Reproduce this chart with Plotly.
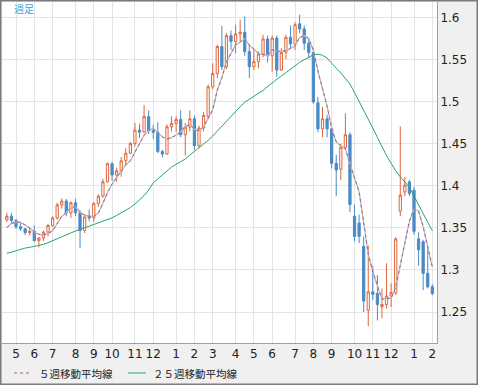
import plotly.graph_objects as go
import pandas as pd

# ---- data (weekly candles, Apr 2007 - Feb 2009) ----
first_week = "2007-04-23"
opens = [1.3595,1.3640,1.3590,1.3515,1.3490,1.3445,1.3460,1.3350,1.3380,1.3450,
         1.3530,1.3620,1.3775,1.3820,1.3680,1.3800,1.3680,1.3470,1.3640,1.3620,
         1.3790,1.3880,1.4050,1.4265,1.4130,1.4175,1.4300,1.4390,1.4505,1.4665,
         1.4645,1.4825,1.4660,1.4640,1.4410,1.4380,1.4705,1.4745,1.4790,1.4610,
         1.4700,1.4800,1.4480,1.4690,1.4830,1.5180,1.5340,1.5660,1.5420,1.5790,
         1.5720,1.5810,1.5830,1.5600,1.5420,1.5480,1.5570,1.5750,1.5550,1.5760,
         1.5380,1.5590,1.5770,1.5690,1.5930,1.5870,1.5700,1.5590,1.4990,1.4680,
         1.4800,1.4680,1.4270,1.4200,1.4460,1.4610,1.3640,1.3560,1.3280,1.2520,
         1.2740,1.2720,1.2560,1.2590,1.2690,1.2730,1.3700,1.3930,1.4050,1.3950,
         1.3370,1.3337,1.2960,1.2800]
highs = [1.3682,1.3680,1.3610,1.3560,1.3500,1.3510,1.3530,1.3395,1.3470,1.3545,
         1.3640,1.3800,1.3850,1.3845,1.3815,1.3850,1.3710,1.3660,1.3720,1.3810,
         1.3900,1.4085,1.4280,1.4285,1.4220,1.4345,1.4450,1.4525,1.4750,1.4740,
         1.4966,1.4900,1.4730,1.4760,1.4430,1.4735,1.4830,1.4830,1.4900,1.4750,
         1.4900,1.4840,1.4720,1.4880,1.5210,1.5460,1.5680,1.5905,1.5820,1.5850,
         1.5920,1.5980,1.6019,1.5680,1.5620,1.5600,1.5800,1.5790,1.5790,1.5790,
         1.5640,1.5800,1.5910,1.5950,1.6038,1.5910,1.5760,1.5630,1.5060,1.4940,
         1.4850,1.4710,1.4370,1.4500,1.4865,1.4640,1.3780,1.3660,1.3400,1.3290,
         1.3050,1.2940,1.2780,1.3080,1.2840,1.3390,1.4710,1.4110,1.4070,1.3990,
         1.3450,1.3360,1.3270,1.2830]
lows = [1.3575,1.3560,1.3490,1.3465,1.3415,1.3410,1.3335,1.3270,1.3345,1.3400,
        1.3515,1.3600,1.3730,1.3640,1.3620,1.3640,1.3262,1.3440,1.3580,1.3570,
        1.3750,1.3860,1.4040,1.4060,1.4050,1.4110,1.4240,1.4380,1.4470,1.4570,
        1.4630,1.4620,1.4560,1.4390,1.4340,1.4370,1.4650,1.4640,1.4580,1.4365,
        1.4650,1.4430,1.4450,1.4650,1.4800,1.5150,1.5280,1.5380,1.5390,1.5620,
        1.5580,1.5720,1.5550,1.5285,1.5380,1.5400,1.5530,1.5470,1.5360,1.5300,
        1.5370,1.5510,1.5640,1.5620,1.5820,1.5620,1.5520,1.4980,1.4640,1.4580,
        1.4580,1.4210,1.3880,1.4070,1.4440,1.3690,1.3340,1.3320,1.2500,1.2330,
        1.2640,1.2400,1.2425,1.2540,1.2560,1.2700,1.3640,1.3880,1.3880,1.3420,
        1.3050,1.2760,1.2780,1.2700]
closes = [1.3640,1.3590,1.3515,1.3490,1.3445,1.3460,1.3350,1.3380,1.3450,1.3530,
          1.3620,1.3775,1.3820,1.3680,1.3800,1.3680,1.3470,1.3630,1.3620,1.3790,
          1.3880,1.4050,1.4265,1.4130,1.4180,1.4300,1.4390,1.4505,1.4665,1.4640,
          1.4825,1.4660,1.4640,1.4410,1.4380,1.4705,1.4745,1.4790,1.4610,1.4700,
          1.4800,1.4480,1.4690,1.4840,1.5180,1.5340,1.5660,1.5420,1.5790,1.5720,
          1.5810,1.5830,1.5600,1.5420,1.5480,1.5570,1.5750,1.5550,1.5760,1.5380,
          1.5590,1.5770,1.5690,1.5920,1.5870,1.5700,1.5590,1.5000,1.4680,1.4800,
          1.4680,1.4270,1.4190,1.4460,1.4610,1.3780,1.3400,1.3400,1.2630,1.2740,
          1.2710,1.2590,1.2590,1.2690,1.2730,1.3370,1.3890,1.4010,1.3910,1.3460,
          1.3240,1.2960,1.2800,1.2720]
prior_closes = [1.3355, 1.3420, 1.3520, 1.3595]   # 4 weeks before first candle (for 5-week MA)
ma25 = [1.3198,1.3215,1.3235,1.3251,1.3261,1.3270,1.3280,1.3289,1.3306,1.3325,
        1.3348,1.3374,1.3400,1.3425,1.3445,1.3464,1.3483,1.3502,1.3521,1.3540,
        1.3560,1.3577,1.3596,1.3620,1.3650,1.3679,1.3708,1.3743,1.3785,1.3833,
        1.3885,1.3952,1.4037,1.4085,1.4133,1.4182,1.4225,1.4257,1.4289,1.4321,
        1.4368,1.4411,1.4455,1.4499,1.4543,1.4595,1.4655,1.4715,1.4775,1.4832,
        1.4888,1.4943,1.4998,1.5031,1.5063,1.5096,1.5138,1.5183,1.5230,1.5270,
        1.5308,1.5346,1.5386,1.5430,1.5474,1.5505,1.5535,1.5561,1.5569,1.5556,
        1.5523,1.5458,1.5401,1.5345,1.5280,1.5214,1.5111,1.5010,1.4906,1.4802,
        1.4689,1.4579,1.4467,1.4361,1.4270,1.4181,1.4110,1.4046,1.3983,1.3881,
        1.3771,1.3668,1.3568,1.3469]
month_labels = ["5","6","7","8","9","10","11","12","1","2","3",
                "4","5","6","7","8","9","10","11","12","1","2"]
y_ticks = [1.25, 1.3, 1.35, 1.4, 1.45, 1.5, 1.55, 1.6]
y_labels = ["1.25", "1.3", "1.35", "1.4", "1.45", "1.5", "1.55", "1.6"]
name_ma5 = "５週移動平均線"
name_ma25 = "２５週移動平均線"
title_text = "週足"

# ---- derived ----
weeks = pd.date_range(first_week, periods=len(closes), freq="7D")
ma5 = pd.Series(prior_closes + closes).rolling(5).mean().iloc[len(prior_closes):].tolist()
tick_dates = [d for d in weeks if d.day <= 7]

UP = "#e0643c"
DOWN = "#4a8ac6"
MA5_C = "#a0628e"
MA25_C = "#2aa56a"

fig = go.Figure()
fig.add_trace(go.Candlestick(
    x=weeks, open=opens, high=highs, low=lows, close=closes,
    increasing=dict(line=dict(color=UP, width=1), fillcolor="white"),
    decreasing=dict(line=dict(color=DOWN, width=1), fillcolor=DOWN),
    whiskerwidth=0, showlegend=False, hoverinfo="skip"))
fig.add_trace(go.Scatter(x=weeks, y=ma25, mode="lines",
                         line=dict(color=MA25_C, width=1), showlegend=False, hoverinfo="skip"))
fig.add_trace(go.Scatter(x=weeks, y=ma5, mode="lines",
                         line=dict(color="#bcbcbc", width=1.3), showlegend=False, hoverinfo="skip"))
fig.add_trace(go.Scatter(x=weeks, y=ma5, mode="lines",
                         line=dict(color=MA5_C, width=1, dash="dot"), showlegend=False, hoverinfo="skip"))

W, H = 478, 385
L, R, T, B = 2, 41, 2, 42
pw, ph = W - L - R, H - T - B

def px(x):
    return (x - L) / pw

def py(y):
    return (H - B - y) / ph

font_num = "DejaVu Sans, Noto Sans CJK JP, sans-serif"
font_jp = "Noto Sans CJK JP, sans-serif"

fig.update_layout(
    width=W, height=H,
    margin=dict(l=L, r=R, t=T, b=B, pad=0, autoexpand=False),
    paper_bgcolor="#f0f0f0", plot_bgcolor="white",
    showlegend=False,
    xaxis=dict(type="date", range=["2007-04-15 14:00", "2009-02-09 04:30"],
               tickvals=tick_dates, ticktext=month_labels,
               showgrid=True, gridcolor="#e4e4e4", gridwidth=1,
               ticks="", showline=True, linecolor="#a0a0a0", linewidth=1,
               zeroline=False, rangeslider=dict(visible=False),
               automargin=False,
               tickfont=dict(family=font_num, size=12, color="#222222")),
    yaxis=dict(side="right", range=[1.2131, 1.6190],
               tickvals=y_ticks, ticktext=y_labels,
               showgrid=True, gridcolor="#e4e4e4", gridwidth=1,
               ticks="", showline=True, linecolor="#a0a0a0", linewidth=1,
               zeroline=False, automargin=False,
               tickfont=dict(family=font_num, size=12, color="#222222")),
)

shapes = [
    dict(type="rect", xref="paper", yref="paper",
         x0=px(0), x1=px(W), y0=py(H), y1=py(0),
         line=dict(color="#7a7a7a", width=3), fillcolor="rgba(0,0,0,0)", layer="above"),
    dict(type="line", xref="paper", yref="paper", x0=px(14), x1=px(32), y0=py(373), y1=py(373),
         line=dict(color=MA5_C, width=1, dash="dot")),
    dict(type="line", xref="paper", yref="paper", x0=px(128), x1=px(146), y0=py(373), y1=py(373),
         line=dict(color=MA25_C, width=1)),
]
annotations = [
    dict(text=title_text, xref="paper", yref="paper", x=px(12), y=py(9),
         xanchor="left", yanchor="middle", showarrow=False,
         font=dict(family=font_jp, size=10, color="#33a4e0")),
    dict(text=name_ma5, xref="paper", yref="paper", x=px(37), y=py(373),
         xanchor="left", yanchor="middle", showarrow=False,
         font=dict(family=font_jp, size=10.5, color="#222222")),
    dict(text=name_ma25, xref="paper", yref="paper", x=px(151), y=py(373),
         xanchor="left", yanchor="middle", showarrow=False,
         font=dict(family=font_jp, size=10.5, color="#222222")),
]
fig.update_layout(shapes=shapes, annotations=annotations)

fig.write_html("out.html",
               config={"displayModeBar": False},
               post_script="document.body.style.margin='0';document.body.style.padding='0';")
